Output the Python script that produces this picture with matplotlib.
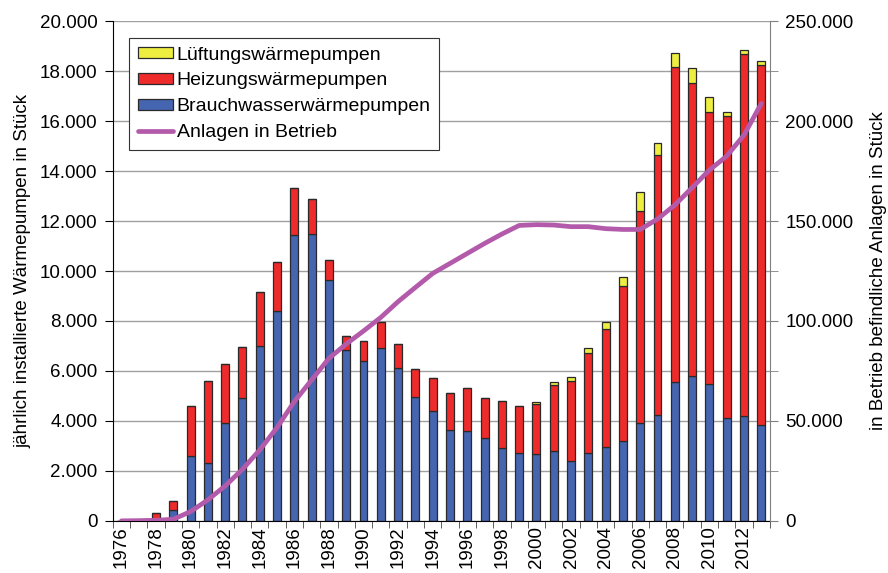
import matplotlib.pyplot as plt
from matplotlib.ticker import FuncFormatter, MultipleLocator
import numpy as np

plt.rcParams['font.family'] = ['Liberation Sans', 'DejaVu Sans']

years = list(range(1976, 2014))

brauchwasser = [0, 0, 80, 450, 2580, 2300, 3900, 4900, 7000, 8400,
                11450, 11480, 9650, 6840, 6400, 6900, 6130, 4970, 4400, 3640,
                3600, 3310, 2920, 2710, 2670, 2810, 2400, 2730, 2950, 3210,
                3930, 4240, 5550, 5810, 5480, 4110, 4200, 3840]
heizung = [0, 0, 220, 350, 2020, 3280, 2370, 2050, 2150, 1980,
           1880, 1400, 790, 560, 800, 1070, 930, 1100, 1310, 1470,
           1710, 1620, 1880, 1880, 2010, 2630, 3210, 3980, 4730, 6200,
           8480, 10400, 12620, 11720, 10870, 12090, 14480, 14390]
lueftung = [0, 0, 0, 0, 0, 0, 0, 0, 0, 0,
            0, 0, 0, 0, 0, 0, 0, 0, 0, 0,
            0, 0, 0, 0, 80, 130, 150, 220, 270, 360,
            740, 490, 540, 580, 600, 160, 160, 160]
anlagen = [0, 100, 300, 800, 4650, 10500, 17500, 25800, 35500, 46700,
           59700, 70500, 81300, 88500, 95000, 101800, 109700, 116800, 123800, 128800,
           133800, 138800, 143500, 147800, 148200, 148000, 147200, 147200, 146200, 145800,
           145800, 151000, 158000, 166700, 175500, 182500, 193000, 208800]


def tausend(v, pos):
    return f"{int(round(v)):,}".replace(",", ".")


x = np.arange(len(years))
bw = np.array(brauchwasser)
hz = np.array(heizung)
lf = np.array(lueftung)

fs = 13.5

fig = plt.figure(figsize=(8.88, 5.73), dpi=100)
ax = fig.add_axes([0.127, 0.091, 0.740, 0.872])

w = 0.46
edge = dict(edgecolor='#2a2a2a', linewidth=0.9)
b1 = ax.bar(x, bw, w, color='#4565B0', **edge)
b2 = ax.bar(x, hz, w, bottom=bw, color='#EE2A2A', **edge)
b3 = ax.bar(x, lf, w, bottom=bw + hz, color='#EEEE40', **edge)

ax.set_xlim(-0.5, len(years) - 0.5)
ax.set_ylim(0, 20000)
ax.yaxis.set_major_locator(MultipleLocator(2000))
ax.yaxis.set_major_formatter(FuncFormatter(tausend))
ax.grid(axis='y', color='#a0a0a0', linewidth=1.0)
ax.set_axisbelow(True)

ax.set_xticks(x[::2])
ax.set_xticklabels([str(y) for y in years[::2]], rotation=90, fontsize=fs)
ax.set_xticks(np.arange(-0.5, len(years), 1), minor=True)
ax.tick_params(axis='x', which='major', length=0, pad=4)
ax.tick_params(axis='x', which='minor', length=5, color='#444444')
ax.tick_params(axis='y', labelsize=fs, length=6, pad=5)
ax.set_ylabel('jährlich installierte Wärmepumpen in Stück', fontsize=fs, labelpad=6)

ax.spines['top'].set_visible(False)
ax.spines['right'].set_visible(False)

ax2 = ax.twinx()
ln, = ax2.plot(x, anlagen, color='#B35AAB', linewidth=3.4,
               solid_joinstyle='round', solid_capstyle='round')
ax2.set_ylim(0, 250000)
ax2.yaxis.set_major_locator(MultipleLocator(50000))
ax2.yaxis.set_minor_locator(MultipleLocator(25000))
ax2.yaxis.set_major_formatter(FuncFormatter(tausend))
ax2.tick_params(axis='y', which='both', labelsize=fs, length=6, pad=5, color='#808080')
ax2.set_ylabel('in Betrieb befindliche Anlagen in Stück', fontsize=fs, labelpad=12)
ax2.spines['right'].set_color('#808080')
ax2.spines['top'].set_visible(False)
ax2.spines['left'].set_visible(False)
ax2.spines['bottom'].set_visible(False)

leg = ax2.legend([b3, b2, b1, ln],
                 ['Lüftungswärmepumpen', 'Heizungswärmepumpen',
                  'Brauchwasserwärmepumpen', 'Anlagen in Betrieb'],
                 loc='upper left', bbox_to_anchor=(0.010, 0.986),
                 fontsize=14, fancybox=False, framealpha=1,
                 edgecolor='#333333', handlelength=1.8, handleheight=0.5,
                 handletextpad=0.2, labelspacing=0.45, borderpad=0.45)
leg.get_frame().set_linewidth(0.8)

plt.savefig('out.png', dpi=100)
